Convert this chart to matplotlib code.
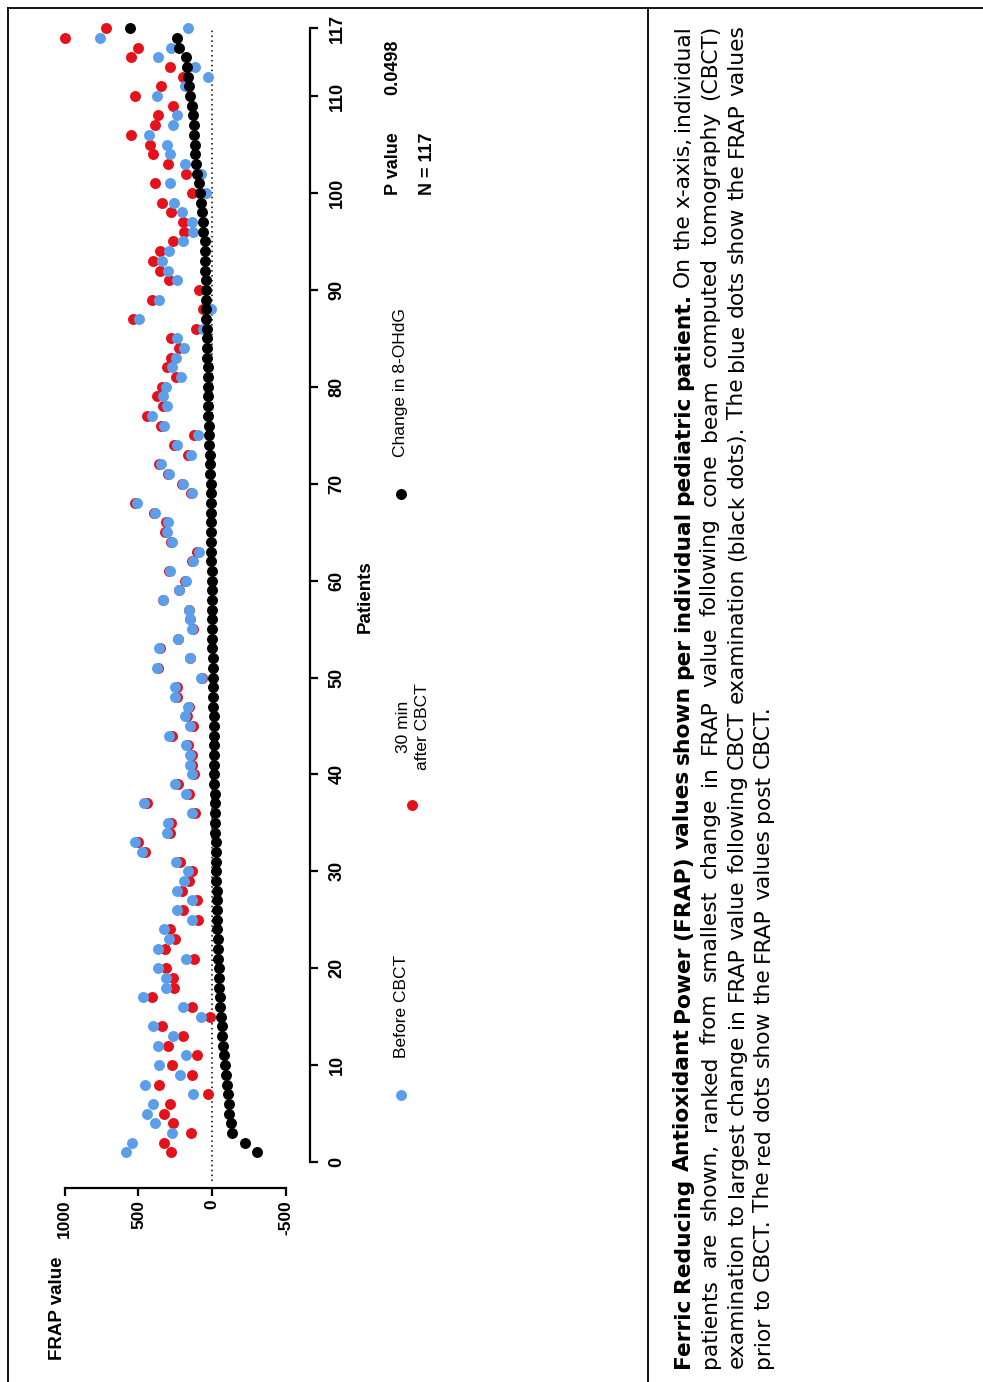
import matplotlib
matplotlib.use('Agg')
import matplotlib.pyplot as plt
import numpy as np

W, H = 983, 1382

# FRAP values per patient, ranked by change
patients = np.arange(1, 118)
frap_before = [584, 543, 275, 388, 444, 399, 129, 453, 219, 361,
               180, 365, 268, 403, 77, 200, 467, 316, 316, 365,
               180, 365, 293, 327, 140, 241, 140, 237, 192, 162,
               246, 478, 523, 304, 298, 140, 462, 180, 253, 140,
               151, 151, 178, 291, 151, 185, 162, 252, 252, 79,
               372, 151, 358, 230, 135, 151, 155, 331, 223, 178,
               286, 133, 92, 270, 309, 302, 388, 511, 135, 196,
               291, 349, 146, 237, 95, 324, 410, 309, 336, 313,
               214, 275, 246, 192, 241, 65, 493, 11, 363, 43,
               241, 302, 342, 291, 200, 129, 135, 203, 257, 43,
               286, 77, 185, 286, 304, 428, 264, 237, 135, 376,
               185, 27, 117, 365, 279, 759, 162]
frap_after = [282, 327, 144, 268, 327, 286, 27, 361, 135, 275,
              106, 302, 201, 343, 16, 140, 410, 259, 264, 316,
              124, 318, 252, 286, 99, 201, 106, 207, 156, 135,
              219, 455, 505, 286, 279, 117, 444, 158, 230, 124,
              135, 135, 162, 275, 133, 173, 156, 241, 241, 68,
              370, 149, 357, 229, 132, 150, 155, 334, 228, 182,
              291, 140, 101, 279, 318, 311, 397, 523, 146, 207,
              302, 363, 162, 259, 124, 349, 444, 336, 372, 343,
              246, 309, 282, 223, 279, 110, 539, 61, 410, 93,
              291, 354, 399, 354, 264, 192, 196, 279, 342, 140,
              388, 180, 302, 399, 421, 550, 388, 365, 264, 523,
              349, 196, 286, 552, 505, 996, 721]
frap_change = [-304, -221, -135, -124, -115, -113, -103, -97, -90, -86,
               -79, -70, -67, -63, -58, -52, -52, -47, -47, -43,
               -40, -36, -36, -34, -34, -29, -29, -29, -25, -25,
               -23, -23, -22, -20, -18, -18, -17, -16, -14, -11,
               -11, -11, -10, -10, -9, -9, -8, -7, -6, -5,
               -2, -2, -1, -1, 0, 0, 1, 2, 2, 3,
               4, 6, 7, 8, 9, 9, 10, 11, 11, 12,
               14, 15, 17, 21, 23, 25, 26, 27, 29, 30,
               31, 32, 34, 35, 38, 39, 40, 41, 43, 44,
               45, 47, 48, 50, 52, 61, 63, 70, 77, 83,
               92, 101, 108, 115, 117, 122, 124, 129, 140, 151,
               156, 162, 174, 180, 223, 241, 557]

x_ticks = [-500, 0, 500, 1000]
p_ticks = [0, 10, 20, 30, 40, 50, 60, 70, 80, 90, 100, 110, 117]

c_blue = '#5b9fea'
c_red = '#e5121b'
c_black = '#000000'

fig = plt.figure(figsize=(W / 100, H / 100), dpi=100)
plt.rcParams['font.family'] = ['Liberation Sans', 'DejaVu Sans']

# chart is laid out sideways: FRAP along x (reversed), patients along y
ax = fig.add_axes([40 / W, 1 - 1188 / H, (310 - 40) / W, (1188 - 20) / H])
ax.set_xlim(1166, -661)
ax.set_ylim(-2.68, 117.85)
ax.patch.set_alpha(0)

ax.plot([0, 0], [-2, 117], color='black', lw=1.1, ls=(0, (1, 2.2)), zorder=1)
ms = 7.9
ax.plot(frap_after, patients, 'o', color=c_red, ms=ms, mew=0, clip_on=False, zorder=2)
ax.plot(frap_before, patients, 'o', color=c_blue, ms=ms, mew=0, clip_on=False, zorder=3)
ax.plot(frap_change, patients, 'o', color=c_black, ms=ms, mew=0, clip_on=False, zorder=4)

for s in ['top', 'left']:
    ax.spines[s].set_visible(False)
ax.spines['bottom'].set_bounds(-500, 1000)
ax.spines['right'].set_bounds(0, 117)
ax.spines['bottom'].set_linewidth(1.6)
ax.spines['right'].set_linewidth(1.6)

ax.set_xticks(x_ticks)
ax.set_xticklabels([str(t) for t in x_ticks], rotation=90, fontsize=12.5, fontweight='bold')
ax.yaxis.tick_right()
ax.set_yticks(p_ticks)
ax.set_yticklabels([str(t) for t in p_ticks], rotation=90, fontsize=13,
                   fontweight='bold', va='center')
ax.tick_params(axis='both', length=5.5, width=1.6)
ax.tick_params(axis='x', pad=3)
ax.tick_params(axis='y', pad=8)

# overlay in pixel coordinates for labels, legend and the caption panel
ov = fig.add_axes([0, 0, 1, 1])
ov.set_xlim(0, W)
ov.set_ylim(H, 0)
ov.axis('off')

# frame
ov.plot([8, W], [8, 8], color='black', lw=1.3)
ov.plot([8, 8], [8, H], color='black', lw=1.3)
ov.plot([648, 648], [8, H], color='black', lw=1.3)

ov.text(58, 1360, 'FRAP value', rotation=90, ha='center', va='bottom',
        fontsize=13.5, fontweight='bold')
ov.text(365, 597, 'Patients', rotation=90, ha='center', va='center',
        fontsize=13.5, fontweight='bold')

# legend
ov.plot([401], [1095], 'o', color=c_blue, ms=ms, mew=0)
ov.text(401, 1058, 'Before CBCT', rotation=90, ha='center', va='bottom', fontsize=12.5)
ov.plot([412], [805], 'o', color=c_red, ms=ms, mew=0)
ov.text(413, 770, '30 min\nafter CBCT', rotation=90, ha='center', va='bottom',
        fontsize=12.5, linespacing=1.35)
ov.plot([401], [494], 'o', color=c_black, ms=ms, mew=0)
ov.text(401, 457, 'Change in 8-OHdG', rotation=90, ha='center', va='bottom', fontsize=12.5)

ov.text(393, 195, 'P value', rotation=90, ha='center', va='bottom',
        fontsize=13, fontweight='bold')
ov.text(393, 95, '0.0498', rotation=90, ha='center', va='bottom',
        fontsize=13, fontweight='bold')
ov.text(428, 195, 'N = 117', rotation=90, ha='center', va='bottom',
        fontsize=13, fontweight='bold')

# caption, justified, one word at a time
cap_bold = 'Ferric Reducing Antioxidant Power (FRAP) values  shown per individual pediatric patient.'
cap_lines = [
    [(w, 'bold') for w in cap_bold.split()] +
    [(w, 'normal') for w in 'On the x-axis, individual'.split()],
    [(w, 'normal') for w in 'patients are shown, ranked from smallest change in FRAP value following cone beam computed tomography (CBCT)'.split()],
    [(w, 'normal') for w in 'examination to largest change in FRAP value following CBCT examination (black dots). The blue dots show the FRAP values'.split()],
    [(w, 'normal') for w in 'prior to CBCT. The red dots show the FRAP values post CBCT.'.split()],
]
cap_x = [689, 716, 743, 769]
cap_y0, cap_y1 = 1368, 25
cap_size = 15.65

renderer = fig.canvas.get_renderer()


def word_width(word, weight):
    t = fig.text(0, 0, word, fontsize=cap_size, fontweight=weight, family='DejaVu Sans')
    w = t.get_window_extent(renderer).width
    t.remove()
    return w


space_w = word_width('a b', 'normal') - word_width('ab', 'normal')
for i, line in enumerate(cap_lines):
    widths = [word_width(w, wt) for w, wt in line]
    if i < len(cap_lines) - 1:
        gap = (cap_y0 - cap_y1 - sum(widths)) / (len(line) - 1)
    else:
        gap = space_w
    y = cap_y0
    for (w, wt), ww in zip(line, widths):
        ov.text(cap_x[i], y, w, rotation=90, rotation_mode='anchor', ha='left',
                va='baseline', fontsize=cap_size, fontweight=wt, family='DejaVu Sans')
        y -= ww + gap

fig.savefig('out.png', dpi=100)
